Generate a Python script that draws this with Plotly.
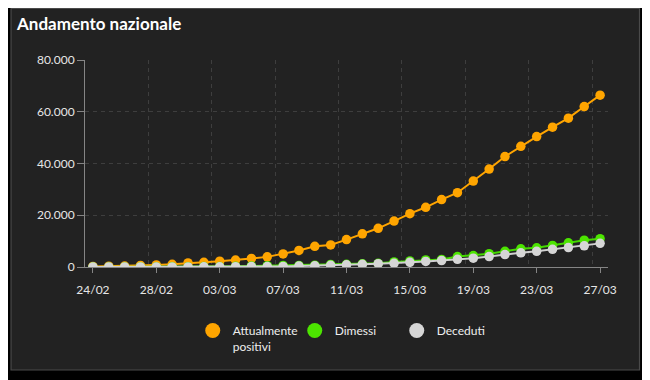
import pandas as pd
import plotly.graph_objects as go

dates = pd.date_range("2020-02-24", "2020-03-27", freq="D")

attualmente_positivi = [221, 311, 385, 588, 821, 1049, 1577, 1835, 2263, 2706, 3296, 3916,
                        5061, 6387, 7985, 8514, 10590, 12839, 14955, 17750, 20603, 23073,
                        26062, 28710, 33190, 37860, 42681, 46638, 50418, 54030, 57521,
                        62013, 66414]
dimessi = [1, 1, 3, 45, 46, 50, 83, 149, 160, 276, 414, 523, 589, 622, 724, 1004, 1045,
           1258, 1439, 1966, 2335, 2749, 2941, 4025, 4440, 5129, 6072, 7024, 7432, 8326,
           9362, 10361, 10950]
deceduti = [7, 10, 12, 17, 21, 29, 34, 52, 79, 107, 148, 197, 233, 366, 463, 631, 827,
            1016, 1266, 1441, 1809, 2158, 2503, 2978, 3405, 4032, 4825, 5476, 6077, 6820,
            7503, 8165, 9134]

series_names = ["Attualmente<br>positivi", "Dimessi", "Deceduti"]
marker_colors = ["#FFA500", "#4CE400", "#D6D6D6"]
line_colors = ["#FFA500", "#44D800", "#D0D0D0"]

tick_dates = dates[::4]
tick_labels = [d.strftime("%d/%m") for d in tick_dates]
grid_dates = [d - pd.Timedelta(hours=12) for d in tick_dates]

W, H = 642, 372
L, R, T, B = 77, 42, 52, 113
pw, ph = W - L - R, H - T - B

fig = go.Figure()
for name, vals, mc, lc in zip(series_names, [attualmente_positivi, dimessi, deceduti],
                              marker_colors, line_colors):
    fig.add_trace(go.Scatter(x=dates, y=vals, mode="lines+markers", name=name,
                             line=dict(color=lc, width=2),
                             marker=dict(color=mc, size=9.5),
                             showlegend=False))
for name, mc in zip(series_names, marker_colors):
    fig.add_trace(go.Scatter(x=[None], y=[None], mode="markers", name=name,
                             marker=dict(color=mc, size=15)))

fig.add_shape(type="rect", xref="paper", yref="paper",
              x0=(3 - L) / pw, x1=(631.5 - L) / pw,
              y0=-(362 - (H - B)) / ph, y1=(T - 0.5) / ph + 1,
              fillcolor="#222222", line=dict(color="#4A4A4A", width=1.2), layer="below")

fig.update_layout(
    width=W, height=H,
    margin=dict(l=L, r=R, t=T, b=B),
    paper_bgcolor="#000000",
    plot_bgcolor="#222222",
    separators=",.",
    font=dict(family="Lato, sans-serif", color="#E6E6E6", size=12),
    title=dict(text="<b>Andamento nazionale</b>", xref="container", yref="container",
               x=9 / W, xanchor="left", y=1 - 16 / H, yanchor="middle",
               font=dict(size=17, color="#FFFFFF", family="Lato, sans-serif")),
    showlegend=True,
    legend=dict(orientation="h", x=0.206, xanchor="left", y=-0.238, yanchor="top",
                valign="top",
                font=dict(size=12, color="#EEEEEE"), entrywidth=57, itemwidth=30,
                bgcolor="rgba(0,0,0,0)"),
    xaxis=dict(type="date",
               range=[dates[0] - pd.Timedelta(hours=12), dates[-1] + pd.Timedelta(hours=12)],
               tickvals=list(tick_dates), ticktext=tick_labels,
               showgrid=False, zeroline=False,
               showline=True, linecolor="#858585", linewidth=1,
               ticks="outside", ticklen=5, tickcolor="#858585",
               ticklabelstandoff=7,
               tickfont=dict(size=12, color="#E6E6E6"),
               minor=dict(tickvals=grid_dates, showgrid=True, gridcolor="#3E3E3E",
                          griddash="4px,4px", gridwidth=1, ticks="")),
    yaxis=dict(range=[0, 80000], tickvals=[0, 20000, 40000, 60000, 80000],
               tickformat=",d",
               showgrid=True, gridcolor="#3E3E3E", griddash="4px,4px", gridwidth=1,
               zeroline=False, showline=True, linecolor="#858585", linewidth=1,
               ticks="outside", ticklen=7, tickcolor="#858585",
               tickfont=dict(size=12, color="#E6E6E6")),
)

fig.write_html("out.html")
